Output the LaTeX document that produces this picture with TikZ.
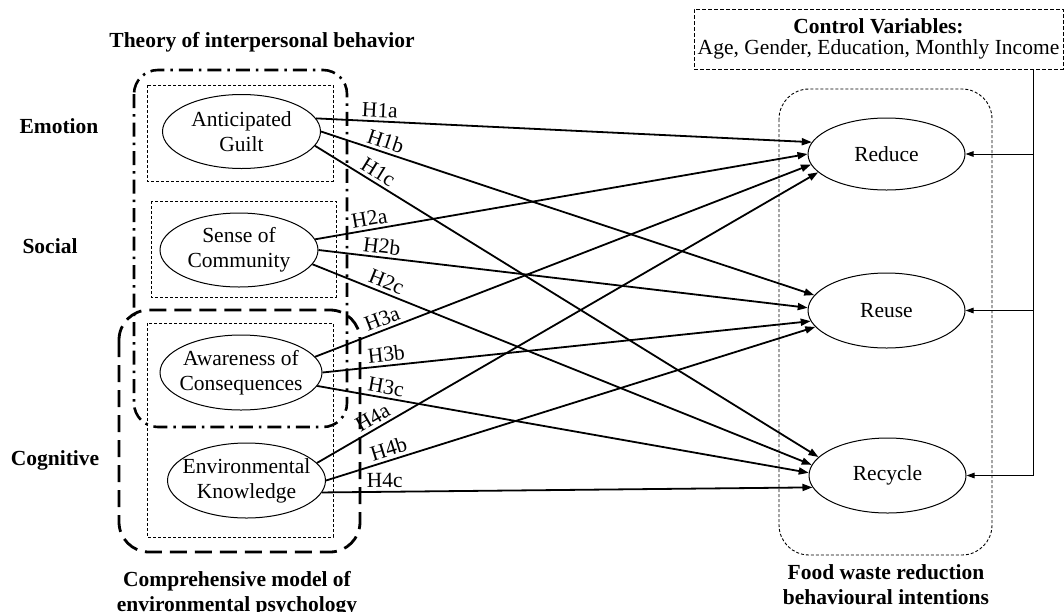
\documentclass[tikz,border=0pt]{standalone}
\usepackage{fontspec}
\setmainfont{Liberation Serif}
\usetikzlibrary{shapes.geometric,arrows.meta}
\begin{document}
\begin{tikzpicture}[x=1pt,y=-1pt,
  every node/.style={font=\fontsize{21.5}{25}\selectfont},
  bold/.style={font=\bfseries\fontsize{21.5}{25}\selectfont},
  ell/.style={ellipse, draw, line width=1pt, minimum width=158pt, minimum height=74pt, inner sep=0pt},
  hyparrow/.style={line width=1.8pt, -{Triangle[length=10pt,width=7pt]}},
  hyp/.style={sloped, above, inner sep=3pt, pos=#1},
  ctrlline/.style={line width=1pt},
  ctrlarrow/.style={line width=1pt, -{Triangle[length=8pt,width=5.5pt]}},
  smallbox/.style={line width=0.9pt, dash pattern=on 3pt off 2pt},
  outbox/.style={line width=0.9pt, dash pattern=on 3pt off 2pt, rounded corners=30pt},
  tibbox/.style={line width=2.6pt, dash pattern=on 14pt off 6pt on 2.5pt off 6pt, rounded corners=24pt},
  cmepbox/.style={line width=2.8pt, dash pattern=on 17pt off 8pt, rounded corners=30pt},
  cvbox/.style={draw, line width=0.9pt, dash pattern=on 4pt off 2pt, minimum width=369pt, minimum height=60pt, align=center, inner sep=0pt}
]
\useasboundingbox (0,0) rectangle (1064,611);

% group frames
\draw[tibbox] (134,70) rectangle (347,427);
\draw[cmepbox] (119,310) rectangle (360,552);
\draw[smallbox] (147,85) rectangle (333,181);
\draw[smallbox] (151,201) rectangle (336,297);
\draw[smallbox] (147,323) rectangle (333,537);
\draw[outbox] (779,89) rectangle (992,555);

% titles
\node[bold] (tib) at (262,42) {Theory of interpersonal behavior};
\node[bold] (emo) at (59,126) {Emotion};
\node[bold] (soc-l) at (50,246) {Social};
\node[bold] (cog) at (55,460) {Cognitive};
\node[bold, align=center] (cmep) at (237,594) {Comprehensive model of\\environmental psychology};
\node[bold, align=center] (fwr) at (886,585) {Food waste reduction\\behavioural intentions};

% predictors
\node[ell, label={[align=center]center:{Anticipated\\Guilt}}] (ag) at (241.5,131.5) {};
\node[ell, label={[align=center]center:{Sense of\\Community}}] (soc) at (239,250) {};
\node[ell, minimum width=162pt, minimum height=75pt, label={[align=center]center:{Awareness of\\Consequences}}] (aoc) at (241,372.5) {};
\node[ell, minimum height=75pt, label={[align=center]center:{Environmental\\Knowledge}}] (ek) at (246.5,480.5) {};

% outcomes
\node[ell, minimum width=157pt, minimum height=72pt, label={center:Reduce}] (red) at (886.5,154) {};
\node[ell, minimum width=157pt, minimum height=75pt, label={center:Reuse}] (reu) at (886.5,310.5) {};
\node[ell, minimum width=157pt, minimum height=75pt, label={center:Recycle}] (rec) at (887.5,475.5) {};

% control variables
\node[cvbox] (cv) at (878.5,39) {\textbf{Control Variables:}\\[-4pt]Age, Gender, Education, Monthly Income};
\coordinate (cvj) at (1033,69);
\draw[ctrlarrow] (cvj) |- (rec.east);
\draw[ctrlarrow] (red.east -| cvj) -- (red.east);
\draw[ctrlarrow] (reu.east -| cvj) -- (reu.east);

% hypotheses
\draw[hyparrow] (ag.10) -- node[hyp=0.128] (h1a) {H1a} (red.171);
\draw[hyparrow] (ag.0) -- node[hyp=0.124] (h1b) {H1b} (reu.168);
\draw[hyparrow] (ag.-11) -- node[hyp=0.114] (h1c) {H1c} (rec.165);
\draw[hyparrow] (soc.8) -- node[hyp=0.114] (h2a) {H2a} (red.180);
\draw[hyparrow] (soc.0) -- node[hyp=0.127] (h2b) {H2b} (reu.178);
\draw[hyparrow] (soc.-11) -- node[hyp=0.14] (h2c) {H2c} (rec.172);
\draw[hyparrow] (aoc.12) -- node[hyp=0.143] (h3a) {H3a} (red.188);
\draw[hyparrow] (aoc.0) -- node[hyp=0.133] (h3b) {H3b} (reu.188);
\draw[hyparrow] (aoc.-10) -- node[hyp=0.136] (h3c) {H3c} (rec.178);
\draw[hyparrow] (ek.14) -- node[hyp=0.122] (h4a) {H4a} (red.195);
\draw[hyparrow] (ek.0) -- node[hyp=0.135] (h4b) {H4b} (reu.193);
\draw[hyparrow] (ek.-9) -- node[hyp=0.128] (h4c) {H4c} (rec.189);
\end{tikzpicture}
\end{document}
